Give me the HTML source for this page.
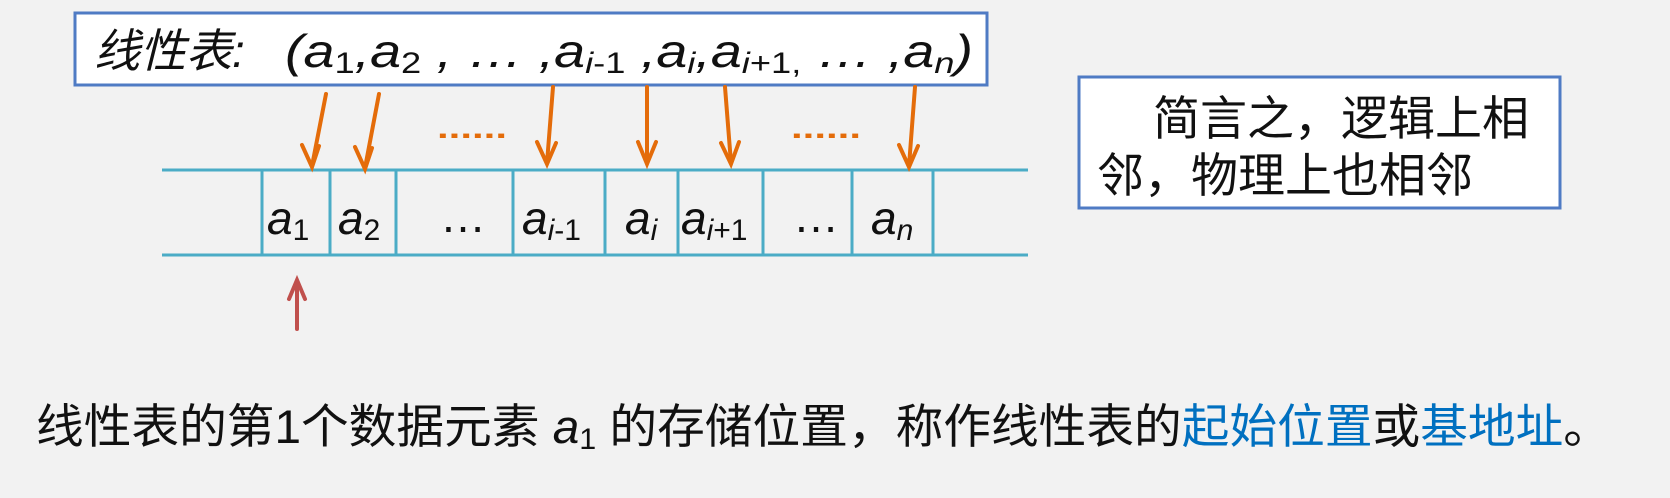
<!DOCTYPE html>
<html><head><meta charset="utf-8"><style>
html,body{margin:0;padding:0;background:#f2f2f2;}
svg{display:block}
text{font-family:"Liberation Sans","Noto Sans CJK SC",sans-serif;}
</style></head><body>
<svg width="1670" height="498" viewBox="0 0 1670 498" xmlns="http://www.w3.org/2000/svg">
<rect x="0" y="0" width="1670" height="498" fill="#f2f2f2"/>
<!-- top box -->
<rect x="75" y="13" width="912" height="72" fill="#fff" stroke="#4f7bc4" stroke-width="3"/>
<text x="94" y="67" font-size="46" font-style="italic" fill="#111">线性表:</text>
<text x="285" y="67" font-size="46" font-style="italic" fill="#111" textLength="688" lengthAdjust="spacingAndGlyphs">(a<tspan font-size="30" dy="6" font-style="normal">1</tspan><tspan dy="-6">,a</tspan><tspan font-size="30" dy="6" font-style="normal">2</tspan><tspan dy="-6"> ,  …  ,a</tspan><tspan font-size="30" dy="6">i</tspan><tspan font-size="30" font-style="normal">-1</tspan><tspan dy="-6"> ,a</tspan><tspan font-size="30" dy="6">i</tspan><tspan dy="-6">,a</tspan><tspan font-size="30" dy="6">i</tspan><tspan font-size="30" font-style="normal">+1,</tspan><tspan dy="-6">  …   ,a</tspan><tspan font-size="30" dy="6">n</tspan><tspan dy="-6">)</tspan></text>
<!-- table -->
<g stroke="#4bacc6" stroke-width="3">
<line x1="162" y1="170" x2="1028" y2="170"/>
<line x1="162" y1="255" x2="1028" y2="255"/>
<line x1="262" y1="170" x2="262" y2="255"/>
<line x1="330" y1="170" x2="330" y2="255"/>
<line x1="396" y1="170" x2="396" y2="255"/>
<line x1="513" y1="170" x2="513" y2="255"/>
<line x1="605" y1="170" x2="605" y2="255"/>
<line x1="678" y1="170" x2="678" y2="255"/>
<line x1="763" y1="170" x2="763" y2="255"/>
<line x1="852" y1="170" x2="852" y2="255"/>
<line x1="933" y1="170" x2="933" y2="255"/>
</g>
<g font-size="46" fill="#111">
<text x="267" y="234" font-style="italic">a<tspan font-size="30" dy="6" font-style="normal">1</tspan></text>
<text x="338" y="234" font-style="italic">a<tspan font-size="30" dy="6" font-style="normal">2</tspan></text>
<text x="440" y="232">…</text>
<text x="522" y="234" font-style="italic">a<tspan font-size="30" dy="6">i</tspan><tspan font-size="30" font-style="normal">-1</tspan></text>
<text x="625" y="234" font-style="italic">a<tspan font-size="30" dy="6">i</tspan></text>
<text x="681" y="234" font-style="italic">a<tspan font-size="30" dy="6">i</tspan><tspan font-size="30" font-style="normal">+1</tspan></text>
<text x="793" y="232">…</text>
<text x="871" y="234" font-style="italic">a<tspan font-size="30" dy="6">n</tspan></text>
</g>
<!-- orange arrows -->
<g stroke="#e46c0a" stroke-width="4" fill="none" stroke-linecap="round">
<line x1="326" y1="94" x2="312" y2="166"/><polyline points="302,145 312,167 319,146"/>
<line x1="379" y1="94" x2="365" y2="168"/><polyline points="355,147 365,169 372,148"/>
<line x1="553" y1="87" x2="547" y2="163"/><polyline points="537,142 547,164 556,143"/>
<line x1="647" y1="87" x2="647" y2="163"/><polyline points="638,142 647,164 656,142"/>
<line x1="725" y1="87" x2="731" y2="163"/><polyline points="721,143 731,164 739,142"/>
<line x1="915" y1="87" x2="909" y2="166"/><polyline points="899,145 909,167 918,146"/>
</g>
<g fill="#e46c0a">
<text x="437" y="138" font-size="30" font-weight="bold" textLength="70" lengthAdjust="spacingAndGlyphs">......</text>
<text x="791" y="138" font-size="30" font-weight="bold" textLength="70" lengthAdjust="spacingAndGlyphs">......</text>
</g>
<!-- red arrow -->
<g stroke="#c0504d" stroke-width="4" fill="none" stroke-linecap="round">
<line x1="297" y1="329" x2="297" y2="281"/><polyline points="289,299 297,280 305,299"/>
</g>
<!-- right box -->
<rect x="1079" y="77" width="481" height="131" fill="#fff" stroke="#4f7bc4" stroke-width="3"/>
<text x="1153" y="135" font-size="47" fill="#111">简言之，逻辑上相</text>
<text x="1097" y="192" font-size="47" fill="#111">邻，物理上也相邻</text>
<!-- bottom -->
<text x="36" y="443" font-size="47" fill="#111" textLength="1575" lengthAdjust="spacingAndGlyphs">线性表的第1个数据元素 <tspan font-style="italic">a</tspan><tspan font-size="30" dy="6">1</tspan><tspan dy="-6"> 的存储位置，称作线性表的</tspan><tspan fill="#0070c0">起始位置</tspan>或<tspan fill="#0070c0">基地址</tspan>。</text>
</svg>
</body></html>
